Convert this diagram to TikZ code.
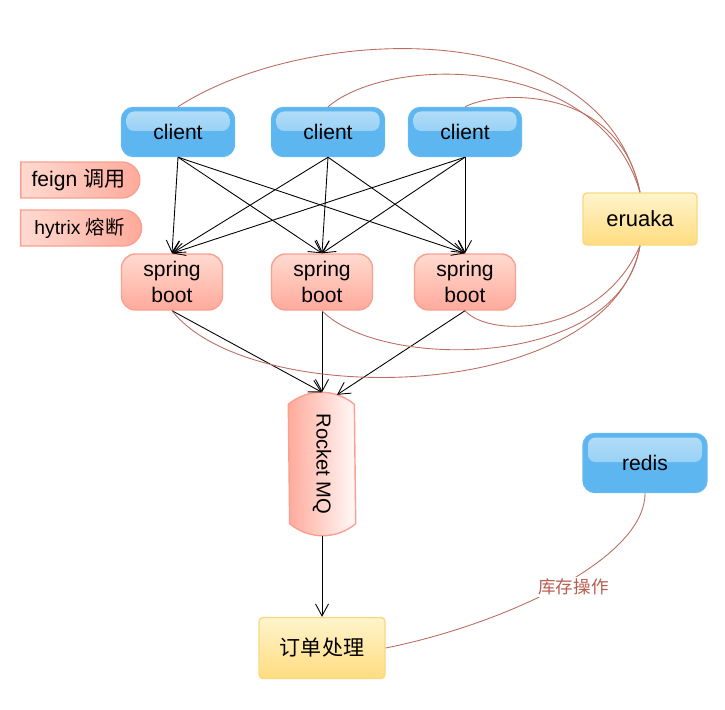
\documentclass[tikz,border=0pt]{standalone}
\usepackage{fontspec}
\setmainfont{Liberation Sans}
\newfontfamily\cjk{Noto Sans CJK SC}
\definecolor{cliblue}{RGB}{93,182,240}
\definecolor{cliedge}{RGB}{100,186,238}
\definecolor{sbtop}{RGB}{255,218,208}
\definecolor{sbbot}{RGB}{255,170,155}
\definecolor{sbedge}{RGB}{250,160,144}
\definecolor{ertop}{RGB}{255,244,204}
\definecolor{erbot}{RGB}{255,220,128}
\definecolor{eredge}{RGB}{250,216,126}
\definecolor{linkbrown}{RGB}{188,108,96}
\definecolor{labelbrown}{RGB}{184,94,78}
\usetikzlibrary{arrows.meta,shapes.misc,backgrounds}

\begin{document}
\begin{tikzpicture}[
    base/.style={inner sep=0pt,align=center,line width=0.8pt,font=\fontsize{12}{14.8}\selectfont},
    client/.style={base,draw=cliedge,fill=cliblue,rounded corners=0.24cm,minimum width=2.26cm,minimum height=0.98cm,
        path picture={\fill[top color=white!55!cliblue,bottom color=white!18!cliblue,rounded corners=0.15cm]
            ([xshift=0.1cm,yshift=-0.08cm]path picture bounding box.north west) rectangle ([xshift=-0.1cm,yshift=0.02cm]path picture bounding box.east);}},
    boot/.style={base,draw=sbedge,top color=sbtop,bottom color=sbbot,rounded corners=0.28cm,minimum width=2.02cm,minimum height=1.12cm},
    yellow/.style={base,draw=eredge,top color=ertop,bottom color=erbot,rounded corners=0.08cm},
    tag/.style={base,rounded rectangle,rounded rectangle left arc=none,draw=sbedge,left color=sbtop,right color=sbbot,minimum height=0.72cm},
    call/.style={-{Straight Barb[length=2.4mm,width=2.6mm]},line width=0.5pt},
    reg/.style={draw=linkbrown,line width=0.5pt}
]
    \useasboundingbox (0,0) rectangle (14.5,-14.18);

    % clients and services
    \node[client] (c1) at (3.56,-2.64) {client};
    \node[client] (c2) at (6.56,-2.64) {client};
    \node[client] (c3) at (9.3,-2.64) {client};
    \node[boot] (s1) at (3.44,-5.64) {spring\\boot};
    \node[boot] (s2) at (6.44,-5.64) {spring\\boot};
    \node[boot] (s3) at (9.3,-5.64) {spring\\boot};

    \node[tag,minimum width=2.38cm] (feign) at (1.57,-3.6) {feign {\cjk 调用}};
    \node[tag,minimum width=2.42cm,font=\fontsize{11}{13}\selectfont] (hytrix) at (1.59,-4.56) {hytrix {\cjk 熔断}};

    \node[yellow,minimum width=2.28cm,minimum height=1.04cm,font=\fontsize{12.5}{15}\selectfont] (eru) at (12.8,-4.38) {eruaka};
    \node[client,minimum width=2.48cm,minimum height=1.18cm] (redis) at (12.9,-9.26) {redis};

    \node[base,minimum width=1.32cm,minimum height=2.84cm,font=\fontsize{11.5}{14}\selectfont] (mq) at (6.44,-9.28) {\rotatebox{-90}{Rocket MQ}};
    \begin{scope}[on background layer]
        \draw[draw=sbedge,line width=0.8pt,left color=sbbot,right color=white!85!sbtop]
            ([yshift=-0.24cm]mq.north west) arc[start angle=130,end angle=50,radius=1.0275cm]
            -- ([yshift=0.24cm]mq.south east) arc[start angle=-50,end angle=-130,radius=1.0275cm] -- cycle;
    \end{scope}

    \node[yellow,minimum width=2.52cm,minimum height=1.22cm] (order) at (6.44,-12.96) {\cjk 订单处理};

    % calls
    \draw[call] (c1.south) -- (s1.north);
    \draw[call] (c1.south) -- (s2.north);
    \draw[call] (c1.south) -- (s3.north);
    \draw[call] (c2.south) -- (s1.north);
    \draw[call] (c2.south) -- (s2.north);
    \draw[call] (c2.south) -- (s3.north);
    \draw[call] (c3.south) -- (s1.north);
    \draw[call] (c3.south) -- (s2.north);
    \draw[call] (c3.south) -- (s3.north);
    \draw[call] (s1.south) -- (mq.north);
    \draw[call] (s2.south) -- (mq.north);
    \draw[call] (s3.south) -- ([xshift=0.3cm,yshift=-0.05cm]mq.north);
    \draw[call] (mq.south) -- (order.north);

    % registry links
    \draw[reg] (c1.north) .. controls +(2.44,1.6) and +(-0.8,3.7) .. (eru.north);
    \draw[reg] (c2.north) .. controls +(1.24,1.06) and +(-0.8,2.76) .. (eru.north);
    \draw[reg] (c3.north) .. controls +(0.7,0.36) and +(-0.4,2.1) .. (eru.north);
    \draw[reg] (s1.south) .. controls +(1.56,-2.0) and +(-0.6,-3.2) .. (eru.south);
    \draw[reg] (s2.south) .. controls +(1.16,-1.2) and +(-0.4,-2.5) .. (eru.south);
    \draw[reg] (s3.south) .. controls +(0.5,-0.56) and +(-0.8,-1.8) .. (eru.south);
    \draw[reg] (redis.south) .. controls +(0,-1.34) and +(2.3,0.46) .. node[pos=0.5,xshift=0.3cm,fill=white,inner sep=1pt,text=labelbrown,font=\cjk\fontsize{10}{12}\selectfont] (stock) {库存操作} (order.east);
\end{tikzpicture}
\end{document}
